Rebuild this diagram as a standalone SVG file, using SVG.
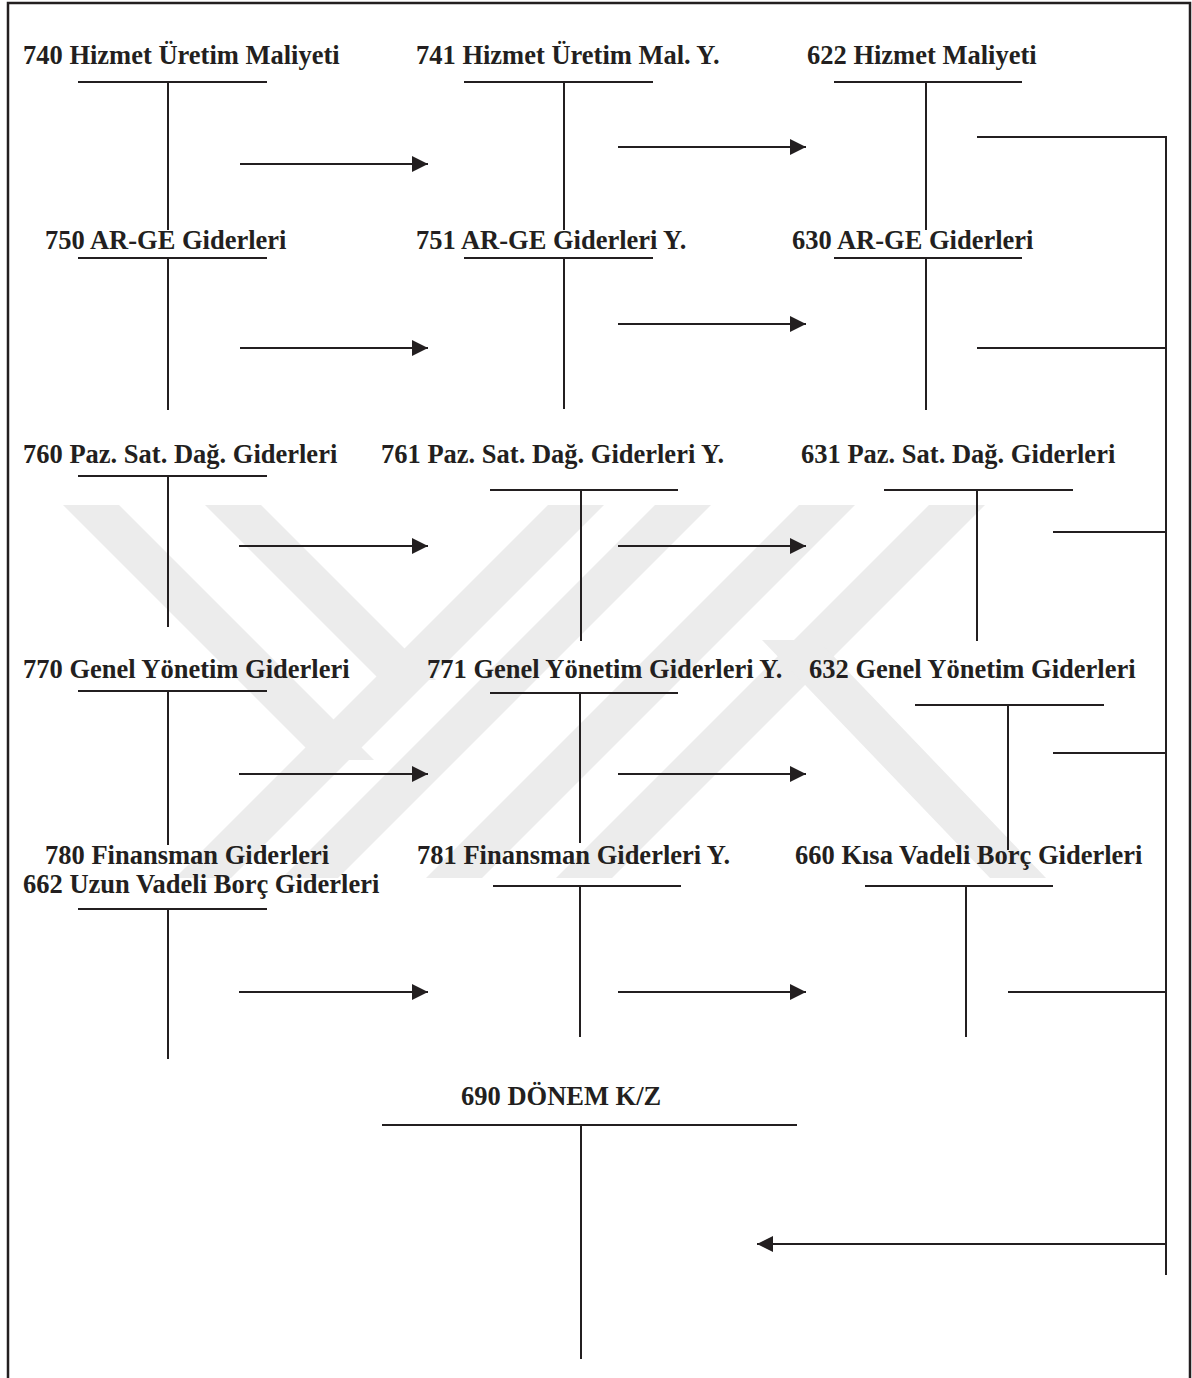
<svg xmlns="http://www.w3.org/2000/svg" width="1192" height="1378" viewBox="0 0 1192 1378">
  <style>
    .lbl { font-family: "Liberation Serif", "Times New Roman", serif; font-weight: bold; font-size: 26.5px; fill: #231f20; }
    .ln { stroke: #231f20; stroke-width: 2; fill: none; }
    .arr { stroke: #231f20; stroke-width: 2; fill: none; marker-end: url(#head); }
    .wm { fill: #ececec; }
  </style>
  <defs>
    <marker id="head" markerUnits="userSpaceOnUse" markerWidth="16" markerHeight="16" refX="16" refY="8" orient="auto">
      <path d="M0,0 L16,8 L0,16 Z" fill="#231f20"/>
    </marker>
    <clipPath id="wmclip">
      <rect x="0" y="505" width="1192" height="373"/>
    </clipPath>
  </defs>

  <rect width="1192" height="1378" fill="#ffffff"/>

  <!-- faint background emblem -->
  <g id="emblem" clip-path="url(#wmclip)">
    <polygon class="wm" points="63,505 119,505 374,760 318,760"/>
    <polygon class="wm" points="205,505 261,505 436,680 380,680"/>
    <polygon class="wm" points="548,505 604,505 231,878 175,878"/>
    <polygon class="wm" points="655,505 711,505 338,878 282,878"/>
    <polygon class="wm" points="799,505 855,505 482,878 426,878"/>
    <polygon class="wm" points="929,505 985,505 612,878 556,878"/>
    <polygon class="wm" points="762,640 818,640 1046,878 990,878"/>
  </g>

  <!-- page frame -->
  <rect id="frame" x="8" y="3" width="1182" height="1400" fill="none" stroke="#231f20" stroke-width="2.5"/>

  <!-- T-accounts -->
  <g id="acc740"><text class="lbl" x="23" y="64">740 Hizmet Üretim Maliyeti</text><path class="ln" d="M78,82 H267 M168,82 V230"/></g>
  <g id="acc741"><text class="lbl" x="416" y="64">741 Hizmet Üretim Mal. Y.</text><path class="ln" d="M464,82 H653 M564,82 V230"/></g>
  <g id="acc622"><text class="lbl" x="807" y="64">622 Hizmet Maliyeti</text><path class="ln" d="M834,82 H1022 M926,82 V230"/></g>

  <g id="acc750"><text class="lbl" x="45" y="249">750 AR-GE Giderleri</text><path class="ln" d="M78,258 H267 M168,258 V410"/></g>
  <g id="acc751"><text class="lbl" x="416" y="249">751 AR-GE Giderleri Y.</text><path class="ln" d="M464,258 H653 M564,258 V409"/></g>
  <g id="acc630"><text class="lbl" x="792" y="249">630 AR-GE Giderleri</text><path class="ln" d="M834,258 H1022 M926,258 V410"/></g>

  <g id="acc760"><text class="lbl" x="23" y="463">760 Paz. Sat. Dağ. Giderleri</text><path class="ln" d="M78,476 H267 M168,476 V627"/></g>
  <g id="acc761"><text class="lbl" x="381" y="463">761 Paz. Sat. Dağ. Giderleri Y.</text><path class="ln" d="M490,490 H678 M581,490 V641"/></g>
  <g id="acc631"><text class="lbl" x="801" y="463">631 Paz. Sat. Dağ. Giderleri</text><path class="ln" d="M884,490 H1073 M977,490 V641"/></g>

  <g id="acc770"><text class="lbl" x="23" y="678">770 Genel Yönetim Giderleri</text><path class="ln" d="M78,691 H267 M168,691 V845"/></g>
  <g id="acc771"><text class="lbl" x="427" y="678">771 Genel Yönetim Giderleri Y.</text><path class="ln" d="M490,693 H678 M580,693 V843"/></g>
  <g id="acc632"><text class="lbl" x="809" y="678">632 Genel Yönetim Giderleri</text><path class="ln" d="M915,705 H1104 M1008,705 V850"/></g>

  <g id="acc780"><text class="lbl" x="45" y="864">780 Finansman Giderleri</text><text class="lbl" x="23" y="893">662 Uzun Vadeli Borç Giderleri</text><path class="ln" d="M78,909 H267 M168,909 V1059"/></g>
  <g id="acc781"><text class="lbl" x="417" y="864">781 Finansman Giderleri Y.</text><path class="ln" d="M493,886 H681 M580,886 V1037"/></g>
  <g id="acc660"><text class="lbl" x="795" y="864">660 Kısa Vadeli Borç Giderleri</text><path class="ln" d="M865,886 H1053 M966,886 V1037"/></g>

  <g id="acc690"><text class="lbl" x="461" y="1105">690 DÖNEM K/Z</text><path class="ln" d="M382,1125 H797 M581,1125 V1359"/></g>

  <!-- transfers between accounts -->
  <g id="connectors">
    <path class="arr" d="M240,164 H428"/>
    <path class="arr" d="M618,147 H806"/>
    <path class="arr" d="M240,348 H428"/>
    <path class="arr" d="M618,324 H806"/>
    <path class="arr" d="M239,546 H428"/>
    <path class="arr" d="M618,546 H806"/>
    <path class="arr" d="M239,774 H428"/>
    <path class="arr" d="M618,774 H806"/>
    <path class="arr" d="M239,992 H428"/>
    <path class="arr" d="M618,992 H806"/>
    <!-- closing lines into the collector -->
    <path class="ln" d="M977,137 H1166 V1275"/>
    <path class="ln" d="M977,348 H1166"/>
    <path class="ln" d="M1053,532 H1166"/>
    <path class="ln" d="M1053,753 H1166"/>
    <path class="ln" d="M1008,992 H1166"/>
    <path class="arr" d="M1166,1244 H757"/>
  </g>
</svg>
